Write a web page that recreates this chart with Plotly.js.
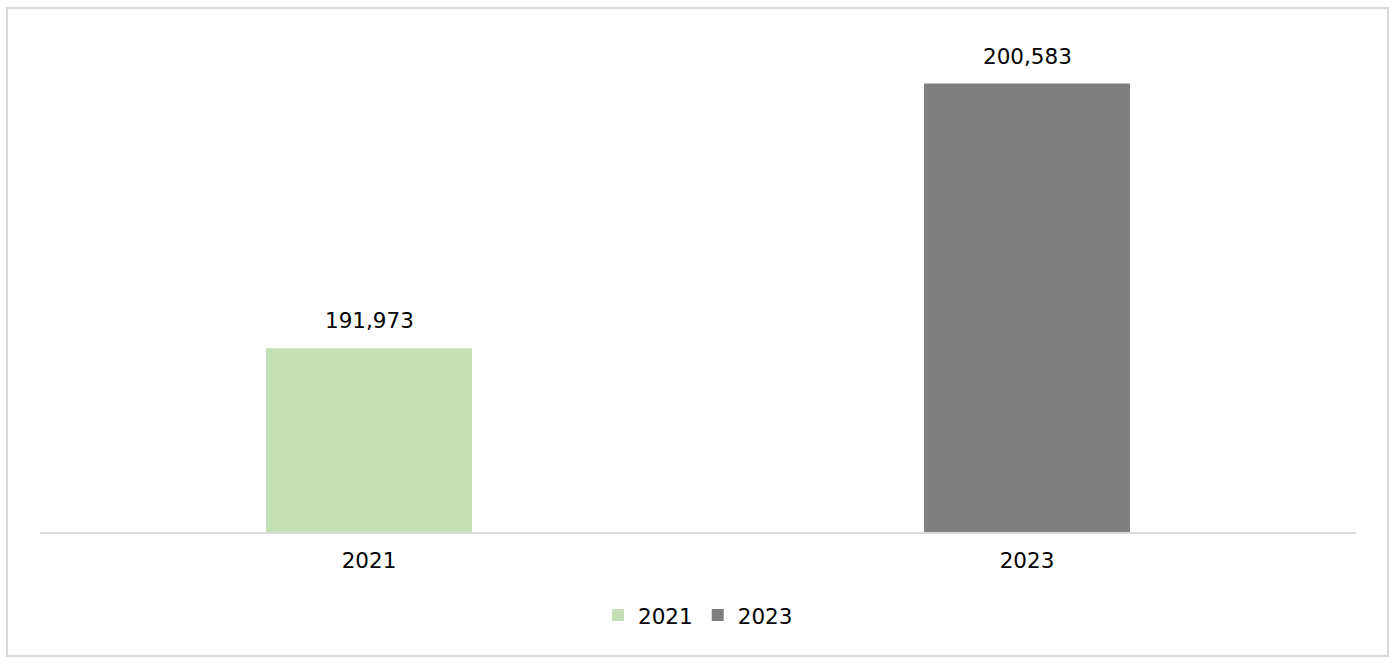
<!DOCTYPE html>
<html>
<head>
<meta charset="utf-8">
<script src="https://cdn.plot.ly/plotly-3.0.1.min.js"></script>
<style>html,body{margin:0;padding:0;background:#fff;}#chart{width:1396px;height:666px;}</style>
</head>
<body>
<div id="chart"></div>
<script>
const categories = ["2021", "2023"];
const values = [191973, 200583];
const labels = ["191,973", "200,583"];
const colors = ["#c5e0b4", "#7f7f7f"];

const fontFam = "DejaVu Sans, sans-serif";
const fontSize = 21.5;
const traces = categories.map((c, i) => ({
  type: "bar",
  name: c,
  x: [c],
  y: [values[i]],
  width: [0.313],
  marker: { color: colors[i] },
  hoverinfo: "x+y"
}));

// category axis: annotation x given as category index
const annotations = categories.map((c, i) => ({
  x: categories.indexOf(c), y: values[i], xref: "x", yref: "y",
  text: labels[i], showarrow: false,
  yanchor: "bottom", yshift: 13,
  font: { family: fontFam, size: fontSize, color: "#000" }
}));

const layout = {
  width: 1396, height: 666,
  margin: { l: 40, r: 40, t: 40, b: 134 },
  paper_bgcolor: "#fff", plot_bgcolor: "#fff",
  barmode: "overlay",
  showlegend: true,
  legend: {
    orientation: "h", x: 0.5, xanchor: "center", y: -0.169, yanchor: "middle",
    font: { family: fontFam, size: fontSize, color: "#000" }
  },
  xaxis: {
    type: "category", categoryorder: "array", categoryarray: categories,
    range: [-0.5, 1.5], autorange: false,
    showline: true, linecolor: "#d9d9d9", linewidth: 2,
    showgrid: false, zeroline: false, ticks: "",
    tickfont: { family: fontFam, size: fontSize, color: "#000" },
    ticklabelstandoff: 8,
    fixedrange: true
  },
  yaxis: {
    range: [186000, 202000], autorange: false, visible: false, showgrid: false, zeroline: false, fixedrange: true
  },
  annotations: annotations,
  shapes: [{
    type: "rect", xref: "paper", yref: "paper",
    x0: -0.0251, x1: 1.0243, y0: -0.252, y1: 1.065,
    line: { color: "#d9d9d9", width: 2 }, fillcolor: "rgba(0,0,0,0)"
  }]
};

Plotly.newPlot("chart", traces, layout, { displayModeBar: false, staticPlot: true });
</script>
</body>
</html>
